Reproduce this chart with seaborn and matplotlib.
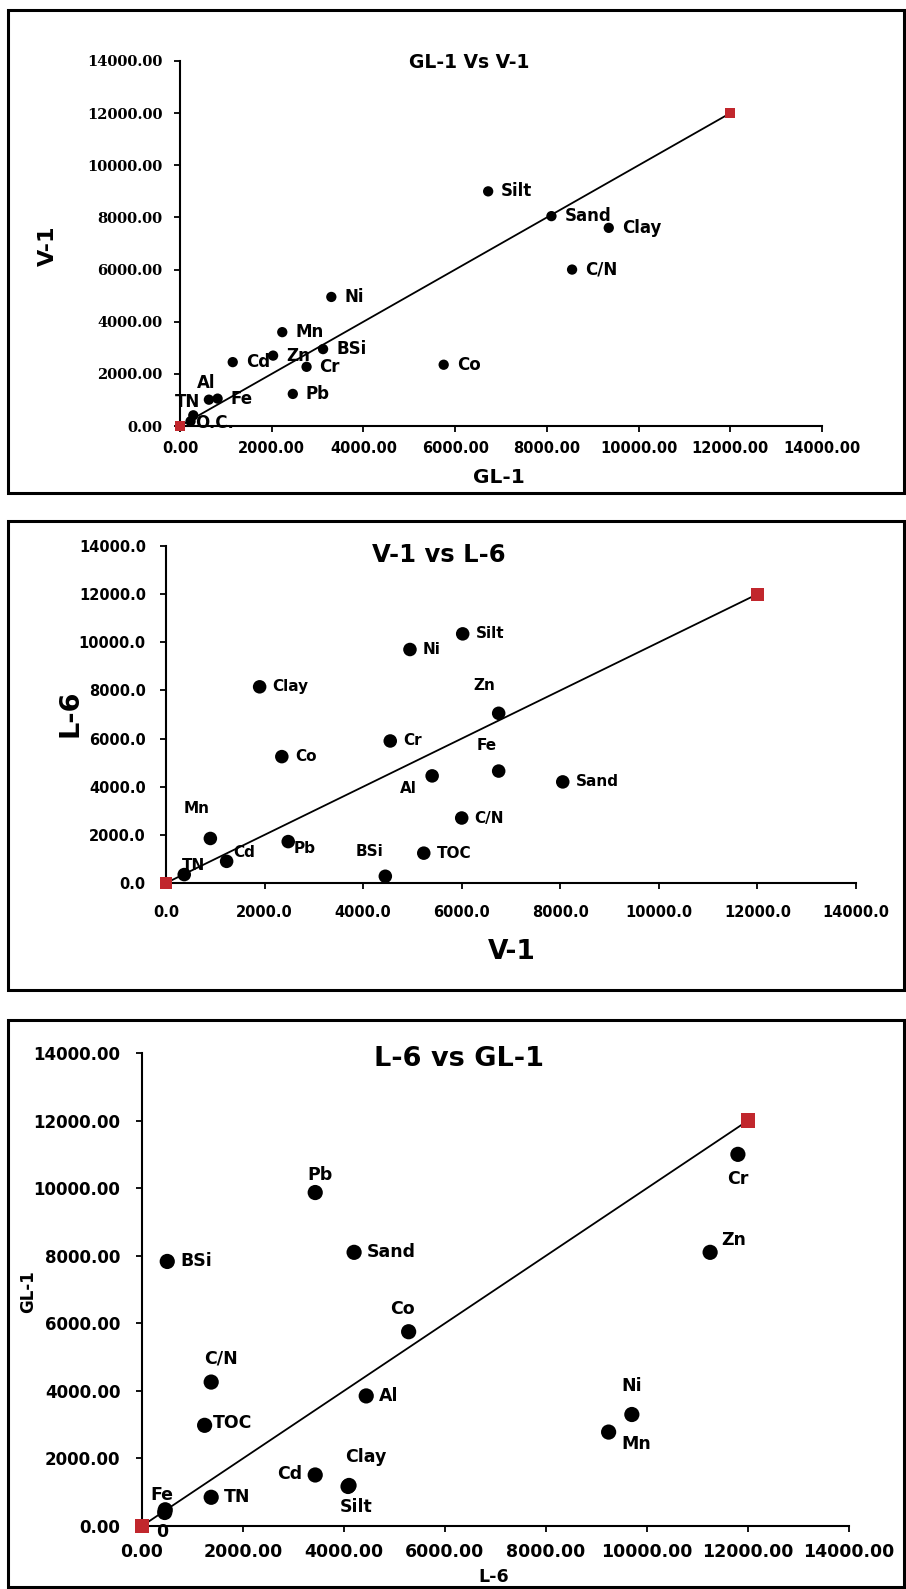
import matplotlib
matplotlib.use("Agg")
import matplotlib.pyplot as plt
import seaborn as sns
import pandas as pd
from matplotlib.patches import Rectangle
from matplotlib.ticker import FuncFormatter

# Panel 1: GL-1 (x) vs V-1 (y)
p1_labels = ["Silt", "Sand", "Clay", "C/N", "Ni", "Mn", "BSi", "Zn", "Cd", "Cr", "Co", "Pb", "Fe", "Al", "TN", "O.C."]
p1_gl1 = [6720, 8100, 9350, 8550, 3300, 2230, 3120, 2030, 1150, 2760, 5750, 2460, 820, 630, 290, 230]
p1_v1 = [9000, 8050, 7600, 6000, 4950, 3600, 2950, 2700, 2450, 2270, 2350, 1230, 1050, 1010, 410, 180]

# Panel 2: V-1 (x) vs L-6 (y)
p2_labels = ["Silt", "Ni", "Clay", "Zn", "Cr", "Co", "Fe", "Al", "Sand", "C/N", "Mn", "Pb", "TOC", "Cd", "TN", "BSi"]
p2_v1 = [6020, 4950, 1900, 6750, 4550, 2350, 6750, 5400, 8050, 6000, 900, 2480, 5230, 1230, 370, 4450]
p2_l6 = [10350, 9700, 8150, 7050, 5900, 5250, 4650, 4450, 4200, 2700, 1850, 1720, 1240, 900, 350, 280]

# Panel 3: L-6 (x) vs GL-1 (y)
p3_labels = ["Cr", "Pb", "Zn", "Sand", "BSi", "Co", "C/N", "Al", "Ni", "TOC", "Mn", "Cd", "Clay", "Silt", "TN", "Fe", "0"]
p3_l6 = [11800, 3430, 11250, 4200, 500, 5280, 1370, 4440, 9700, 1240, 9240, 3430, 4100, 4080, 1370, 460, 450]
p3_gl1 = [11000, 9870, 8100, 8100, 7830, 5750, 4260, 3850, 3300, 2980, 2780, 1510, 1200, 1170, 850, 480, 400]

# 1:1 reference end points
ref_vals = [0, 12000]

W, H = 906, 1589
RED = "#C1272D"

sns.set_theme(style="ticks")
plt.rcParams["font.family"] = ["DejaVu Sans"]
plt.rcParams["font.weight"] = "bold"
plt.rcParams["text.color"] = "black"
plt.rcParams["axes.labelcolor"] = "black"
plt.rcParams["xtick.color"] = "black"
plt.rcParams["ytick.color"] = "black"

fig = plt.figure(figsize=(W / 100, H / 100), dpi=100)


def px_rect(x0, y0, x1, y1):
    return [x0 / W, 1 - y1 / H, (x1 - x0) / W, (y1 - y0) / H]


def ftext(x, y, s, size, rot=0, family="DejaVu Sans"):
    fig.text(x / W, 1 - y / H, s, ha="center", va="center", rotation=rot,
             fontsize=size, fontweight="bold", family=family, color="black")


# panel borders
for (bx0, by0, bx1, by1) in [(8, 10, 904, 493), (8, 521, 904, 990), (8, 1020, 904, 1587)]:
    fig.add_artist(Rectangle((bx0 / W, 1 - by1 / H), (bx1 - bx0) / W, (by1 - by0) / H,
                             transform=fig.transFigure, fill=False, lw=2.2, ec="black"))


def draw_panel(ax, xs, ys, labels, offsets, dot, sq, lab_fs, xtick_fs, xtick_family,
               ytick_fs, ytick_family, fmt, ypad, xpad):
    df = pd.DataFrame({"x": xs, "y": ys, "label": labels})
    ref = pd.DataFrame({"x": ref_vals, "y": ref_vals})
    sns.lineplot(data=ref, x="x", y="y", ax=ax, color="black", lw=1.3, zorder=2)
    sns.scatterplot(data=df, x="x", y="y", ax=ax, color="black", s=dot, edgecolor="none", zorder=3)
    sns.scatterplot(data=ref, x="x", y="y", ax=ax, color=RED, marker="s", s=sq,
                    edgecolor="none", zorder=4, clip_on=False)
    for _, r in df.iterrows():
        dx, dy, ha = offsets.get(r["label"], (13, 0, "left"))
        ax.annotate(r["label"], (r["x"], r["y"]), xytext=(dx, dy), textcoords="offset pixels",
                    ha=ha, va="center", fontsize=lab_fs, fontweight="bold", color="black", zorder=5)
    ax.set_xlim(0, 14000)
    ax.set_ylim(0, 14000)
    ticks = range(0, 14001, 2000)
    ax.set_xticks(ticks)
    ax.set_yticks(ticks)
    ax.xaxis.set_major_formatter(FuncFormatter(lambda v, p: fmt.format(v)))
    ax.yaxis.set_major_formatter(FuncFormatter(lambda v, p: fmt.format(v)))
    for t in ax.get_xticklabels():
        t.set_fontfamily(xtick_family)
        t.set_fontsize(xtick_fs)
        t.set_fontweight("bold")
    for t in ax.get_yticklabels():
        t.set_fontfamily(ytick_family)
        t.set_fontsize(ytick_fs)
        t.set_fontweight("bold")
    ax.tick_params(length=4.5, width=1.3, color="black")
    ax.tick_params(axis="y", pad=ypad)
    ax.tick_params(axis="x", pad=xpad)
    sns.despine(ax=ax)
    for s in ["left", "bottom"]:
        ax.spines[s].set_linewidth(1.5)
        ax.spines[s].set_color("black")
    ax.set_facecolor("none")
    ax.set_xlabel("")
    ax.set_ylabel("")


# label offsets in pixels (dx, dy, ha); default is right of point
p1_off = {"Al": (-3, 17, "center"), "TN": (-6, 13, "center"), "O.C.": (5, -2, "left")}
p2_off = {"Zn": (-14, 28, "center"), "Fe": (-12, 26, "center"), "Al": (-24, -13, "center"),
          "Mn": (-14, 30, "center"), "Pb": (5, -7, "left"), "Cd": (7, 9, "left"),
          "TN": (9, 9, "center"), "BSi": (-16, 25, "center")}
p3_off = {"Cr": (0, -25, "center"), "Pb": (5, 18, "center"), "Zn": (24, 12, "center"),
          "Co": (-6, 23, "center"), "C/N": (10, 24, "center"), "Ni": (0, 29, "center"),
          "TOC": (8, 2, "left"), "Mn": (28, -12, "center"), "Cd": (-13, 1, "right"),
          "Clay": (17, 28, "center"), "Silt": (8, -21, "center"), "Fe": (-3, 15, "center"),
          "0": (-3, -20, "center")}

ax1 = fig.add_axes(px_rect(180, 61, 822, 426))
draw_panel(ax1, p1_gl1, p1_v1, p1_labels, p1_off, 55, 50, 12, 10.5, "DejaVu Sans",
           10.5, "DejaVu Serif", "{:.2f}", 8, 6)
ftext(469, 62, "GL-1 Vs V-1", 13.5)
ftext(499, 478, "GL-1", 14.5)
ftext(48, 246, "V-1", 16, rot=90)

ax2 = fig.add_axes(px_rect(166, 546, 856, 883))
draw_panel(ax2, p2_v1, p2_l6, p2_labels, p2_off, 95, 85, 11, 10.5, "DejaVu Sans",
           10.5, "DejaVu Sans", "{:.1f}", 10, 11)
ftext(439, 555, "V-1 vs L-6", 17.5)
ftext(512, 952, "V-1", 19)
ftext(70, 713, "L-6", 19.5, rot=90)

ax3 = fig.add_axes(px_rect(142, 1053, 849, 1526))
draw_panel(ax3, p3_l6, p3_gl1, p3_labels, p3_off, 120, 115, 12.5, 12.5, "DejaVu Sans",
           12, "DejaVu Sans", "{:.2f}", 11, 8)
ftext(459, 1059, "L-6 vs GL-1", 19.5)
ftext(494, 1577, "L-6", 12.5)
ftext(28, 1292, "GL-1", 12, rot=90)

fig.savefig("out.png", dpi=100)
